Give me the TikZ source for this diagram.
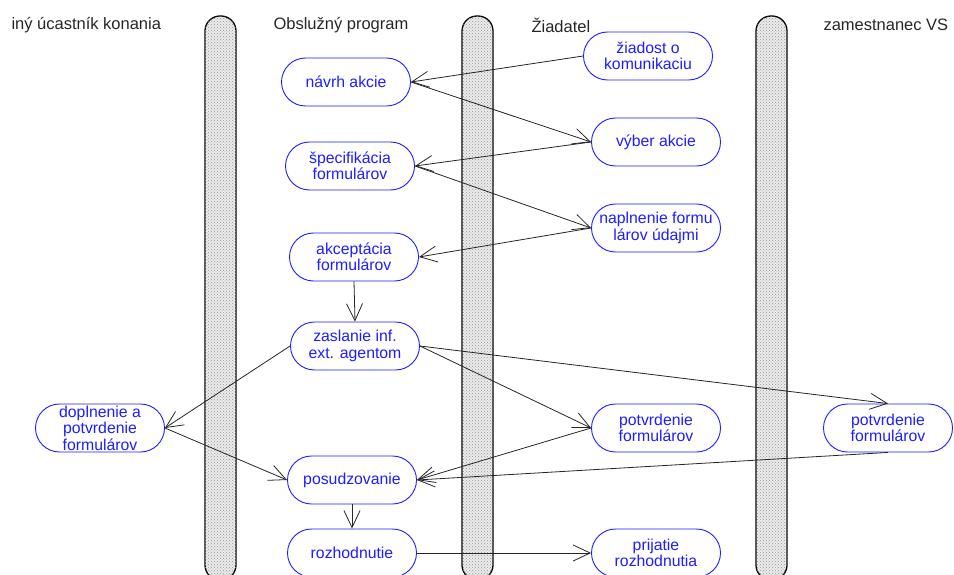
\documentclass[tikz,border=0pt]{standalone}
\usepackage{fontspec}
\setmainfont{Liberation Sans}
\usetikzlibrary{arrows.meta,shapes.misc,patterns}
\definecolor{actblue}{RGB}{30,30,255}
\begin{document}
\begin{tikzpicture}[x=1pt,y=-1pt,
  lane/.style={draw=black,line width=1.3pt,rounded corners=15pt,
    fill=gray!15,postaction={pattern=crosshatch dots,pattern color=gray!85}},
  head/.style={anchor=west,font=\fontsize{16.5}{17}\selectfont,text=black!85},
  act/.style={rounded rectangle,draw=actblue,line width=0.9pt,text=actblue,
    minimum width=131pt,minimum height=48pt,inner sep=1pt,align=center,
    font=\fontsize{15.8}{16.5}\selectfont,fill=white},
  arr/.style={draw=black!85,line width=0.8pt,-{Straight Barb[length=17pt,width=16pt,line width=0.8pt]}}]
\useasboundingbox (0,0) rectangle (954,575);

% swimlane separators
\path[lane] (205,16) rectangle (236,580);
\path[lane] (462,16) rectangle (493,580);
\path[lane] (756,16) rectangle (787,580);

% lane titles
\node[head] (h1) at (8,25) {iný úcastník konania};
\node[head] (h2) at (270,25) {Obslužný program};
\node[head] (h3) at (528,25) {Žiadatel};
\node[head] (h4) at (820,25) {zamestnanec VS};

% activities
\node[act] (zk) at (648,56)  {žiadost o\\komunikaciu};
\node[act] (na) at (346,82)  {návrh akcie};
\node[act] (vy) at (656,142) {výber akcie};
\node[act] (sp) at (350,166) {špecifikácia\\formulárov};
\node[act] (np) at (656,228) {naplnenie formu\\lárov údajmi};
\node[act] (ak) at (354,257) {akceptácia\\formulárov};
\node[act] (za) at (355,346) {zaslanie inf.\\ext. agentom};
\node[act] (dp) at (100,428) {doplnenie a\\potvrdenie\\formulárov};
\node[act] (pz) at (656,428) {potvrdenie\\formulárov};
\node[act] (pv) at (888,428) {potvrdenie\\formulárov};
\node[act] (po) at (352,480) {posudzovanie};
\node[act] (ro) at (352,553) {rozhodnutie};
\node[act] (pr) at (656,553) {prijatie\\rozhodnutia};

% transitions
\draw[arr] (zk.west) -- (na.east);
\draw[arr] (na.east) -- (vy.west);
\draw[arr] (vy.west) -- (sp.east);
\draw[arr] (sp.east) -- (np.west);
\draw[arr] (np.west) -- (ak.east);
\draw[arr] (ak.south) -- (za.north);
\draw[arr] (za.west) -- (dp.east);
\draw[arr] (za.east) -- (pz.west);
\draw[arr] (za.east) -- (pv.north);
\draw[arr] (dp.east) -- (po.west);
\draw[arr] (pz.west) -- (po.east);
\draw[arr] (pv.south) -- (po.east);
\draw[arr] (po.south) -- (ro.north);
\draw[arr] (ro.east) -- (pr.west);
\end{tikzpicture}
\end{document}
